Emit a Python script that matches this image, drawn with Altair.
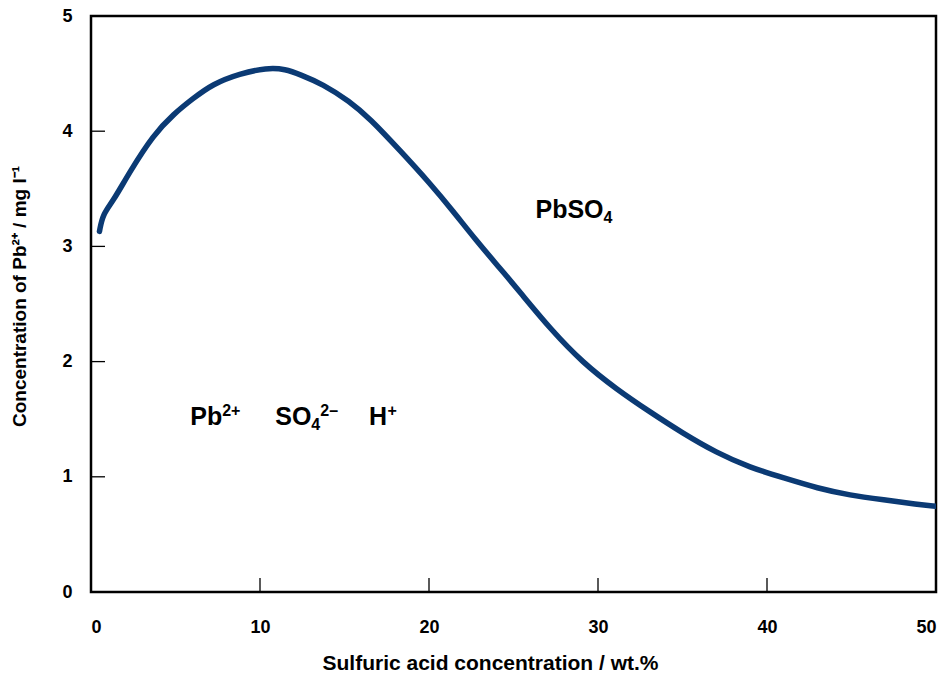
import altair as alt
import pandas as pd

# Curve
acid_wt = [0.5, 0.7, 1.3, 2.3, 3.7, 4.9, 6.0, 7.2, 8.8, 10.4, 11.5, 12.4, 13.7,
           15.3, 16.5, 18.3, 20.1, 21.4, 22.8, 24.2, 25.4, 27.2, 29.1, 31.1,
           33.1, 35.0, 37.0, 39.0, 41.0, 43.0, 44.9, 46.9, 48.9, 50.0]
pb_conc = [3.13, 3.28, 3.39, 3.65, 3.97, 4.15, 4.28, 4.41, 4.50, 4.55, 4.54,
           4.49, 4.41, 4.26, 4.11, 3.83, 3.54, 3.31, 3.05, 2.81, 2.60, 2.28,
           1.99, 1.76, 1.56, 1.38, 1.21, 1.08, 0.99, 0.90, 0.84, 0.80, 0.76, 0.745]

# Annotation pieces (main text, superscripts, subscripts)
main_labels = ["Pb", "SO", "H", "PbSO"]
main_x = [5.87, 10.90, 16.45, 26.30]
main_y = [1.45, 1.45, 1.45, 3.25]

sup_labels = ["2+", "2–", "+"]
sup_x = [7.76, 13.57, 17.55]
sup_y = [1.45, 1.45, 1.45]

sub_labels = ["4", "4"]
sub_x = [13.03, 30.33]
sub_y = [1.45, 3.25]

x_ticks = [0, 10, 20, 30, 40, 50]
y_ticks = [0, 1, 2, 3, 4, 5]
x_inner_ticks = [10, 20, 30, 40]
y_inner_ticks = [1, 2, 3, 4]

W, H = 845, 576
FONT = "Liberation Sans"

df = pd.DataFrame({"x": acid_wt, "y": pb_conc})
main_df = pd.DataFrame({"x": main_x, "y": main_y, "label": main_labels})
sup_df = pd.DataFrame({"x": sup_x, "y": sup_y, "label": sup_labels})
sub_df = pd.DataFrame({"x": sub_x, "y": sub_y, "label": sub_labels})
xt = pd.DataFrame({"x": x_inner_ticks})
yt = pd.DataFrame({"y": y_inner_ticks})

xscale = alt.Scale(domain=[0, 50], nice=False, zero=False)
yscale = alt.Scale(domain=[0, 5], nice=False, zero=False)

line = alt.Chart(df).mark_line(
    color="#0b3a74", strokeWidth=5.5, interpolate="basis", clip=True,
    strokeCap="round"
).encode(
    x=alt.X("x:Q", scale=xscale,
            axis=alt.Axis(title="Sulfuric acid concentration / wt.%", values=x_ticks,
                          ticks=False, domain=False, grid=False, labelPadding=26,
                          titlePadding=16, titleX=399, titleAlign="center",
                          titleFontSize=21, format="d")),
    y=alt.Y("y:Q", scale=yscale,
            axis=alt.Axis(title="Concentration of Pb²⁺ / mg l⁻¹", values=y_ticks,
                          ticks=False, domain=False, grid=False, labelPadding=19,
                          titlePadding=32, titleY=280, titleFontSize=19,
                          format="d")),
)

xtick_rules = alt.Chart(xt).mark_rule(color="black", strokeWidth=1.3).encode(
    x=alt.X("x:Q", scale=xscale), y=alt.value(H), y2=alt.value(H - 14)
)
ytick_rules = alt.Chart(yt).mark_rule(color="black", strokeWidth=1.3).encode(
    y=alt.Y("y:Q", scale=yscale), x=alt.value(0), x2=alt.value(14)
)

def text_layer(data, size, dy):
    return alt.Chart(data).mark_text(
        font=FONT, fontWeight="bold", fontSize=size, align="left",
        baseline="alphabetic", color="black", dy=dy
    ).encode(
        x=alt.X("x:Q", scale=xscale), y=alt.Y("y:Q", scale=yscale), text="label:N"
    )

main_t = text_layer(main_df, 25, 0)
sup_t = text_layer(sup_df, 16, -9)
sub_t = text_layer(sub_df, 16, 5)

chart = alt.layer(line, xtick_rules, ytick_rules, main_t, sup_t, sub_t).properties(
    width=W, height=H,
    background="white",
    autosize=alt.AutoSizeParams(type="none"),
    padding={"left": 91, "top": 16, "right": 8, "bottom": 83},
).configure_view(
    stroke="black", strokeWidth=2.5
).configure_axis(
    labelFont=FONT, labelFontWeight="bold", labelFontSize=18, labelColor="black",
    titleFont=FONT, titleFontWeight="bold", titleColor="black",
)

chart.save("out.html", embed_options={"renderer": "svg", "actions": False})
